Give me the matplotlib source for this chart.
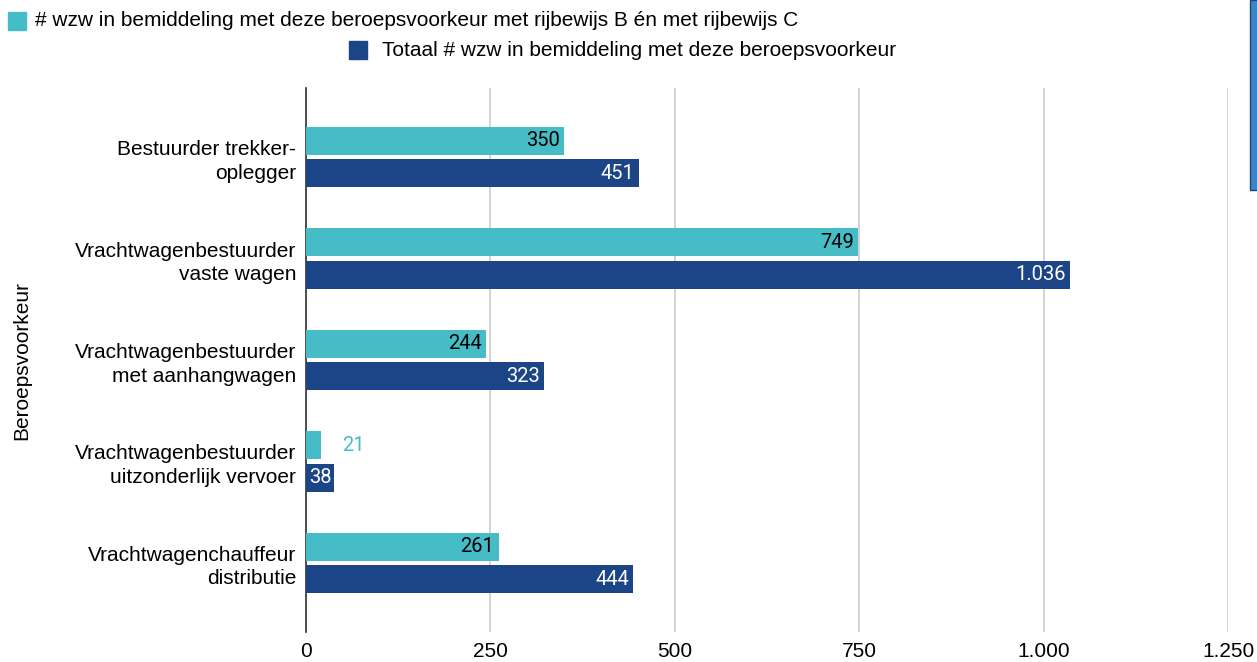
import matplotlib
matplotlib.use("Agg")
import matplotlib.pyplot as plt
from matplotlib.patches import Rectangle
import numpy as np

categories = [
    "Bestuurder trekker-\noplegger",
    "Vrachtwagenbestuurder\nvaste wagen",
    "Vrachtwagenbestuurder\nmet aanhangwagen",
    "Vrachtwagenbestuurder\nuitzonderlijk vervoer",
    "Vrachtwagenchauffeur\ndistributie",
]
met_b_en_c = [350, 749, 244, 21, 261]
totaal = [451, 1036, 323, 38, 444]
legend_labels = [
    "# wzw in bemiddeling met deze beroepsvoorkeur met rijbewijs B én met rijbewijs C",
    "Totaal # wzw in bemiddeling met deze beroepsvoorkeur",
]
xticks = [0, 250, 500, 750, 1000, 1250]
xtick_labels = ["0", "250", "500", "750", "1.000", "1.250"]

teal = "#46bdc6"
navy = "#1c4587"

plt.rcParams['font.family'] = ['Liberation Sans', 'DejaVu Sans']

fig = plt.figure(figsize=(12.57, 6.62), dpi=100)
ax = fig.add_axes([306 / 1257, 1 - 632 / 662, 922 / 1257, 544 / 662])

y = np.arange(len(categories))
h = 0.276
off = 0.158
bars1 = ax.barh(y - off, met_b_en_c, height=h, color=teal, zorder=3)
bars2 = ax.barh(y + off, totaal, height=h, color=navy, zorder=3)


def fmt(v):
    return f"{v:,}".replace(",", ".")


vfont = ['Roboto', 'DejaVu Sans']
for bar, v in zip(bars1, met_b_en_c):
    cy = bar.get_y() + bar.get_height() / 2
    if v < 60:
        ax.text(v + 28, cy, fmt(v), ha='left', va='center', color=teal,
                fontsize=14.5, family=vfont)
    else:
        ax.text(v - 6, cy, fmt(v), ha='right', va='center', color='black',
                fontsize=14.5, family=vfont, zorder=4)
for bar, v in zip(bars2, totaal):
    cy = bar.get_y() + bar.get_height() / 2
    ax.text(v - 3 if v < 60 else v - 6, cy, fmt(v), ha='right', va='center',
            color='white', fontsize=14.5, family=vfont, zorder=4)

ax.set_xlim(0, 1250)
ax.set_ylim(len(categories) - 1 + 0.68, -0.68)
ax.set_xticks(xticks)
ax.set_xticklabels(xtick_labels, fontsize=15)
ax.set_yticks(y)
ax.set_yticklabels(categories, fontsize=15, linespacing=1.3)
ax.tick_params(axis='y', length=0, pad=7)
ax.tick_params(axis='x', length=0, pad=7)
ax.grid(axis='x', color='#cccccc', linewidth=1.2, zorder=0)
for s in ['top', 'right', 'bottom']:
    ax.spines[s].set_visible(False)
ax.spines['left'].set_color('#333333')
ax.spines['left'].set_linewidth(1.2)
ax.set_ylabel("Beroepsvoorkeur", fontsize=15)
ax.yaxis.set_label_coords(-0.298, 0.5)

# legend
fig.patches.append(Rectangle((8 / 1257, 1 - 30 / 662), 18 / 1257, 18 / 662,
                             transform=fig.transFigure, color=teal))
fig.text(35 / 1257, 1 - 21 / 662, legend_labels[0], fontsize=15, va='center', ha='left')
fig.patches.append(Rectangle((349 / 1257, 1 - 59 / 662), 18 / 1257, 18 / 662,
                             transform=fig.transFigure, color=navy))
fig.text(382 / 1257, 1 - 50 / 662, legend_labels[1], fontsize=15, va='center', ha='left')

# scrollbar-like strip at right edge
fig.patches.append(Rectangle((1250 / 1257, 1 - 190 / 662), 8 / 1257, 190 / 662,
                             transform=fig.transFigure, facecolor='#3d85c6',
                             edgecolor='#1c4587', linewidth=1))

fig.savefig("out.png", dpi=100)
